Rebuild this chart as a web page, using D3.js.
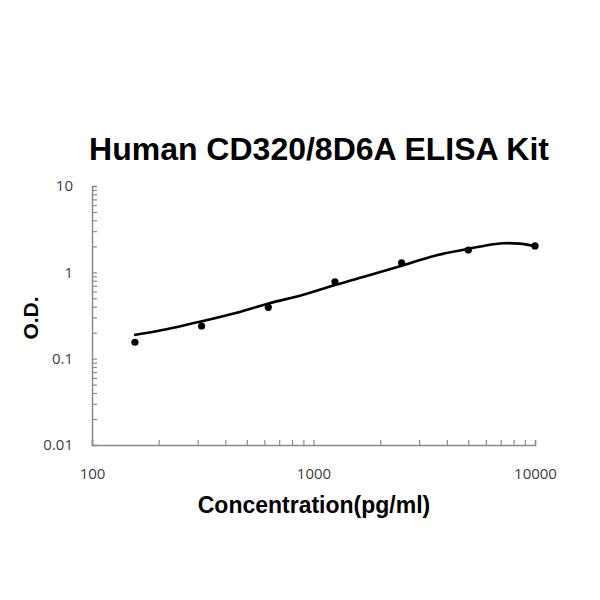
<!DOCTYPE html>
<html>
<head>
<meta charset="utf-8">
<script src="https://cdn.jsdelivr.net/npm/d3@7"></script>
<style>
  html, body { margin: 0; padding: 0; background: #fff; }
  svg { display: block; }
</style>
</head>
<body>
<svg id="chart" width="600" height="600"></svg>
<script>
// ---- data ----
const title = "Human CD320/8D6A ELISA Kit";
const xTitle = "Concentration(pg/ml)";
const yTitle = "O.D.";
const concentrations = [156.25, 312.5, 625, 1250, 2500, 5000, 10000];
const odValues = [0.155, 0.239, 0.393, 0.778, 1.29, 1.81, 2.02];
const fitConc = [155, 200, 310, 450, 628, 900, 1250, 1800, 2500, 3500, 4950, 6000, 7190, 8500, 9890];
const fitOD = [0.188, 0.21, 0.269, 0.34, 0.436, 0.55, 0.713, 0.93, 1.19, 1.55, 1.86, 2.05, 2.17, 2.15, 2.02];
const xTickLabels = [100, 1000, 10000];
const yTickLabels = [0.01, 0.1, 1, 10];

// ---- layout ----
const svg = d3.select("#chart");
const plotLeft = 92, plotRight = 535, plotTop = 186, plotBottom = 445;
const x = d3.scaleLog().domain([100, 10000]).range([plotLeft, plotRight]);
const y = d3.scaleLog().domain([0.01, 10]).range([plotBottom, plotTop]);

const axisColor = "#8a8a8a";
const labelColor = "#404040";

function minorTicks(lo, hi) {
  const t = [];
  for (let d = lo; d < hi * 0.999; d *= 10) for (let k = 1; k < 10; k++) t.push(d * k);
  t.push(hi);
  return t;
}

const xAxis = d3.axisBottom(x)
  .tickValues(minorTicks(100, 10000))
  .tickSize(-5)
  .tickPadding(23)
  .tickFormat(d => xTickLabels.some(v => Math.abs(v - d) < 1e-6) ? String(d) : "");
const gx = svg.append("g").attr("transform", `translate(0,${plotBottom})`).call(xAxis);

const yAxis = d3.axisLeft(y)
  .tickValues(minorTicks(0.01, 10))
  .tickSize(-5)
  .tickPadding(19)
  .tickFormat(d => {
    const m = yTickLabels.find(v => Math.abs(v - d) / v < 1e-6);
    return m !== undefined ? String(m) : "";
  });
const gy = svg.append("g").attr("transform", `translate(${plotLeft},0)`).call(yAxis);

[gx, gy].forEach(g => {
  g.select(".domain").attr("stroke", axisColor).attr("stroke-width", 1.5);
  g.selectAll(".tick line").attr("stroke", axisColor).attr("stroke-width", 1.2);
  g.selectAll(".tick text")
    .attr("fill", labelColor)
    .style("font-family", "'Open Sans', 'Liberation Sans', Arial, sans-serif")
    .style("font-size", "15px");
});

// fitted curve
const line = d3.line()
  .x(d => x(d[0]))
  .y(d => y(d[1]))
  .curve(d3.curveCatmullRom);
svg.append("path")
  .datum(fitConc.map((c, i) => [c, fitOD[i]]))
  .attr("d", line)
  .attr("fill", "none")
  .attr("stroke", "#000")
  .attr("stroke-width", 2.6);

// points
svg.append("g").selectAll("circle")
  .data(concentrations.map((c, i) => [c, odValues[i]]))
  .join("circle")
  .attr("cx", d => x(d[0]))
  .attr("cy", d => y(d[1]))
  .attr("r", 3.6)
  .attr("fill", "#000");

// titles
const boldFont = "'Liberation Sans', Arial, Helvetica, sans-serif";
svg.append("text")
  .attr("x", 319).attr("y", 160)
  .attr("text-anchor", "middle")
  .style("font-family", boldFont)
  .style("font-weight", "bold")
  .style("font-size", "32px")
  .attr("fill", "#000")
  .text(title);

svg.append("text")
  .attr("x", 314).attr("y", 513)
  .attr("text-anchor", "middle")
  .style("font-family", boldFont)
  .style("font-weight", "bold")
  .style("font-size", "23px")
  .attr("fill", "#000")
  .text(xTitle);

svg.append("text")
  .attr("transform", "translate(38,318) rotate(-90)")
  .attr("text-anchor", "middle")
  .style("font-family", boldFont)
  .style("font-weight", "bold")
  .style("font-size", "21px")
  .attr("fill", "#000")
  .text(yTitle);
</script>
</body>
</html>
